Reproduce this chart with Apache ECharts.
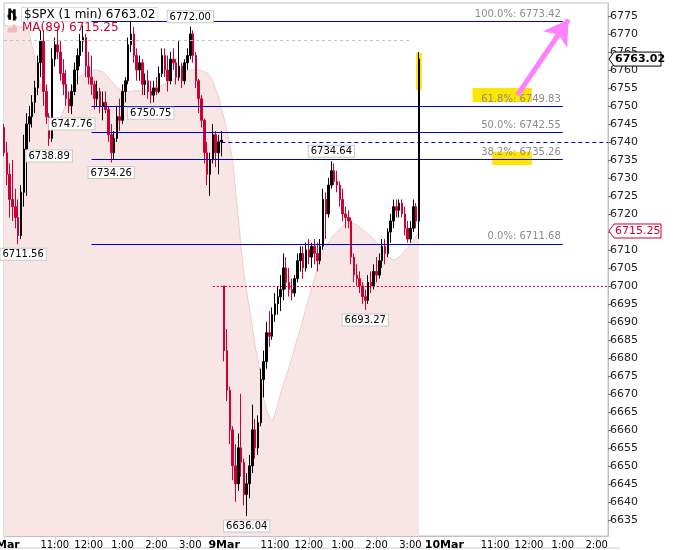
<!DOCTYPE html>
<html>
<head>
<meta charset="utf-8">
<title>$SPX (1 min)</title>
<script src="https://cdn.jsdelivr.net/npm/echarts@6/dist/echarts.min.js"></script>
<style>
    html, body { margin: 0; padding: 0; background: #fff; }
    #chart { width: 688px; height: 550px; }
</style>
</head>
<body>
<div id="chart"></div>
<script>
// trading days on the axis and how many 5-minute slots each one gets (from 9:30)
var tradingDays = ['6Mar', '9Mar', '10Mar'];
var daySlots = [78, 78, 59];

// $SPX, 5-minute bars
var spxOpen = [
    6744, 6737, 6731, 6724, 6722, 6719, 6714, 6726, 6738, 6745,
    6747, 6751, 6755, 6762, 6768, 6754, 6747, 6741, 6763, 6767,
    6765, 6759, 6756, 6752, 6750, 6754, 6760, 6764, 6768, 6769,
    6761, 6758, 6756, 6752, 6754, 6750, 6751, 6749, 6742, 6737,
    6741, 6747, 6746, 6754, 6757, 6767, 6770, 6764, 6760, 6762,
    6756, 6757, 6754, 6753, 6755, 6754, 6759, 6764, 6760, 6757,
    6763, 6762, 6758, 6761, 6757, 6762, 6764, 6770, 6764, 6757,
    6752, 6746, 6737, 6731, 6735, 6742, 6737, 6740,
    6700, 6682, 6671, 6660, 6650, 6645, 6655, 6651, 6642, 6645,
    6650, 6660, 6655, 6662, 6674, 6679, 6687, 6686, 6692, 6695,
    6697, 6699, 6705, 6701, 6699, 6698, 6702, 6707, 6709, 6705,
    6710, 6708, 6711, 6709, 6707, 6711, 6724, 6720, 6728, 6732,
    6729, 6728, 6724, 6720, 6719, 6718, 6708, 6703, 6702, 6700,
    6697, 6696, 6701, 6700, 6704, 6703, 6707, 6711, 6709, 6715,
    6718, 6722, 6721, 6723, 6720, 6716, 6713, 6716, 6722, 6718
];
var spxClose = [
    6737, 6731, 6724, 6722, 6719, 6714, 6726, 6738, 6745, 6747,
    6751, 6755, 6762, 6768, 6754, 6747, 6741, 6763, 6767, 6765,
    6759, 6756, 6752, 6750, 6754, 6760, 6764, 6768, 6769, 6761,
    6758, 6756, 6752, 6754, 6750, 6751, 6749, 6742, 6737, 6741,
    6747, 6746, 6754, 6757, 6767, 6770, 6764, 6760, 6762, 6756,
    6757, 6754, 6753, 6755, 6754, 6759, 6764, 6760, 6757, 6763,
    6762, 6758, 6761, 6757, 6762, 6764, 6770, 6764, 6757, 6752,
    6746, 6737, 6731, 6735, 6742, 6737, 6740, 6740.5,
    6682, 6671, 6660, 6650, 6645, 6655, 6651, 6642, 6645, 6650,
    6660, 6655, 6662, 6674, 6679, 6687, 6686, 6692, 6695, 6697,
    6699, 6705, 6701, 6699, 6698, 6702, 6707, 6709, 6705, 6710,
    6708, 6711, 6709, 6707, 6711, 6724, 6720, 6728, 6732, 6729,
    6728, 6724, 6720, 6719, 6718, 6708, 6703, 6702, 6700, 6697,
    6696, 6701, 6700, 6704, 6703, 6707, 6711, 6709, 6715, 6718,
    6722, 6721, 6723, 6720, 6716, 6713, 6716, 6722, 6718, 6763.02
];
var spxLow = [
    6736, 6728, 6719, 6718, 6716, 6711.56, 6713, 6722, 6725, 6740,
    6744, 6748, 6753, 6758, 6750, 6745, 6738.89, 6740, 6761, 6763,
    6757, 6753, 6750, 6748, 6747.76, 6753, 6756, 6761, 6765, 6758,
    6756, 6753, 6749, 6750, 6748, 6746, 6748, 6740, 6734.26, 6735,
    6740, 6743, 6745, 6751, 6756, 6765, 6762, 6757, 6757, 6753,
    6753, 6752, 6750.75, 6751, 6753, 6753.5, 6758, 6758, 6754, 6756,
    6760, 6756, 6757, 6755, 6756, 6760, 6763, 6762, 6755, 6748,
    6744, 6734, 6728, 6725, 6734, 6733, 6731, 6736,
    6679, 6668, 6656, 6646, 6640, 6643, 6647, 6639, 6636.04, 6641,
    6648, 6652, 6653, 6661, 6669, 6677, 6683, 6685, 6690, 6692,
    6693, 6696, 6699, 6697, 6696, 6697, 6701, 6704, 6702, 6704,
    6706, 6705, 6706, 6704, 6706, 6710, 6713, 6719, 6727, 6728,
    6726, 6722, 6718, 6716, 6716, 6706, 6701, 6700, 6698, 6695,
    6693.27, 6695, 6698, 6699, 6701, 6702, 6705, 6706, 6708, 6712,
    6716, 6719, 6719, 6719, 6714, 6712, 6712, 6715, 6716, 6713
];
var spxHigh = [
    6745, 6740, 6734, 6735, 6727, 6724, 6728, 6742, 6748, 6750,
    6753, 6757, 6764, 6771, 6771, 6756, 6748, 6766, 6769, 6771.5,
    6768, 6763, 6760, 6754, 6756, 6762, 6766, 6770, 6772.3, 6770,
    6765, 6764, 6757, 6757, 6755, 6754, 6754, 6750, 6745, 6743,
    6750, 6752, 6756, 6758, 6769, 6773.42, 6772, 6766, 6764, 6763,
    6759, 6760, 6757, 6757, 6758, 6761, 6766, 6766, 6764, 6765,
    6766, 6763, 6768, 6762, 6763, 6766, 6772, 6771, 6765, 6757.5,
    6753, 6746.5, 6740, 6737, 6745, 6743, 6742, 6743,
    6700, 6688, 6672, 6661, 6656, 6659, 6670, 6652, 6648, 6653,
    6667, 6663, 6664, 6677, 6682, 6690, 6693, 6694, 6698, 6700,
    6703, 6709, 6708, 6705, 6702, 6703, 6709, 6711, 6711, 6712,
    6713, 6712, 6713, 6712, 6713, 6727, 6726, 6730, 6734.64, 6734,
    6732, 6729, 6727, 6722, 6721, 6719, 6709, 6706, 6704, 6701,
    6699, 6703, 6704, 6706, 6708, 6709, 6713, 6713, 6716, 6720,
    6724, 6724, 6724, 6724, 6722, 6718, 6718, 6724, 6723, 6765
];

// MA(89), shaded
var ma89 = [
    6772.3, 6772.3, 6772.2, 6772.2, 6772.1, 6772.0, 6772.0, 6771.9, 6771.6, 6770.2,
    6766.5, 6763.0, 6758.5, 6755.5, 6752.0, 6749.3, 6746.3, 6743.4, 6743.7, 6744.8,
    6746.5, 6748.5, 6750.8, 6753.0, 6754.8, 6756.6, 6757.5, 6758.2, 6758.7, 6759.0,
    6759.5, 6759.8, 6760.0, 6759.9, 6759.7, 6759.5, 6758.8, 6757.9, 6757.0, 6756.0,
    6755.1, 6754.6, 6754.1, 6753.9, 6754.0, 6754.1, 6754.2, 6754.2, 6754.3, 6754.3,
    6754.4, 6754.4, 6754.5, 6754.7, 6754.9, 6755.3, 6755.7, 6756.1, 6756.5, 6756.9,
    6757.4, 6757.9, 6758.4, 6758.9, 6759.3, 6759.7, 6760.0, 6760.0, 6760.0, 6760.0,
    6759.8, 6759.5, 6759.1, 6758.2, 6757.0, 6754.5, 6752.5, 6749.5,
    6746.5, 6743.0, 6739.0, 6735.0, 6727.0, 6719.0, 6710.5, 6703.5, 6698.5, 6693.5,
    6688.5, 6683.0, 6679.5, 6674.0, 6668.5, 6665.5, 6663.5, 6662.2, 6664.5, 6667.0,
    6670.0, 6672.5, 6675.0, 6677.5, 6680.0, 6683.0, 6685.5, 6688.0, 6691.0, 6694.0,
    6696.5, 6699.5, 6702.0, 6705.0, 6707.8, 6709.5, 6711.0, 6712.0, 6713.2, 6714.3,
    6715.0, 6715.8, 6716.6, 6717.2, 6717.5, 6717.5, 6717.3, 6717.0, 6716.3, 6715.6,
    6715.0, 6714.3, 6713.7, 6713.0, 6712.0, 6711.0, 6710.0, 6709.2, 6708.3, 6707.5,
    6707.2, 6707.5, 6708.0, 6708.7, 6709.8, 6710.6, 6711.6, 6712.6, 6713.8, 6715.25
];

// fibonacci retracement levels
var fibPct = ['100.0%', '61.8%', '50.0%', '38.2%', '0.0%'];
var fibPrice = [6773.42, 6749.83, 6742.55, 6735.26, 6711.68];

// boxed highs / lows: slot index and price
var tagSlot = [66, 24, 52, 16, 38, 116, 5, 128, 86];
var tagPrice = [6772.00, 6747.76, 6750.75, 6738.89, 6734.26, 6734.64, 6711.56, 6693.27, 6636.04];
var tagAbove = [true, false, false, false, false, true, false, false, false];

var yTicks = [];
for (var t = 6635; t <= 6775; t += 5) yTicks.push(t);

var lastPrice = 6763.02;
var lastMa = 6715.25;

// build the category axis: one entry per 5-minute slot
var categories = [];
var labelIdx = {};
for (var d = 0; d < tradingDays.length; d++) {
    for (var k = 0; k < daySlots[d]; k++) {
        var mins = 570 + k * 5;
        var h = Math.floor(mins / 60), m = mins % 60;
        var txt = '';
        if (k === 0) {
            txt = '{d|' + tradingDays[d] + '}';
        } else if (m === 0 && h >= 11) {
            txt = (h > 12 ? h - 12 : h) + ':00';
        }
        if (txt) labelIdx[categories.length] = txt;
        categories.push(tradingDays[d] + ' ' + h + ':' + (m < 10 ? '0' + m : m));
    }
}
function showSlot(i) { return !!labelIdx[i]; }

var ohlc = [];
for (var i = 0; i < spxOpen.length; i++) {
    ohlc.push([spxOpen[i], spxClose[i], spxLow[i], spxHigh[i]]);
}

var fibStart = 30.8, fibEnd = 197.7;
var blue = '#0000cc';
var crimson = '#cc0033';

function segment(x0, x1, y, style, label) {
    var a = { coord: [x0, y], lineStyle: style };
    if (label) a.label = label;
    return [a, { coord: [x1, y], lineStyle: style }];
}

var markLines = [];
for (var f = 0; f < fibPrice.length; f++) {
    markLines.push(segment(fibStart, fibEnd, fibPrice[f], { color: blue, width: 1, type: 'solid' }, {
        show: true,
        position: 'insideEndTop',
        distance: 2,
        color: '#8c8c8c',
        fontSize: 10,
        fontFamily: 'DejaVu Sans',
        formatter: fibPct[f] + ': ' + fibPrice[f].toFixed(2)
    }));
}
// hand drawn lines
markLines.push(segment(0, 143.9, 6768.3, { color: '#c4c4c4', width: 1, type: [3, 3] }));
markLines.push(segment(76.9, 214, 6740, { color: blue, width: 1, type: [4, 3] }));
markLines.push(segment(74, 214, 6700, { color: crimson, width: 1, type: [2, 2] }));
// pink arrow
var arrowStyle = { color: '#ff80ff', width: 5, type: 'solid' };
markLines.push([
    { coord: [182.1, 6753.1], symbol: 'none', lineStyle: arrowStyle },
    { coord: [200.3, 6774.0], symbol: 'arrow', symbolSize: [22, 24], lineStyle: arrowStyle, itemStyle: { color: '#ff80ff' } }
]);

var markPoints = [];
for (var p = 0; p < tagSlot.length; p++) {
    markPoints.push({
        coord: [tagSlot[p], tagPrice[p]],
        value: tagPrice[p].toFixed(2),
        label: { position: tagAbove[p] ? 'top' : 'bottom', offset: [tagSlot[p] < 10 ? 5 : 0, 0] }
    });
}

var chart = echarts.init(document.getElementById('chart'));
chart.setOption({
    animation: false,
    backgroundColor: '#fff',
    textStyle: { fontFamily: 'DejaVu Sans' },
    legend: {
        left: 2,
        top: 2,
        orient: 'vertical',
        itemGap: 0,
        itemWidth: 10,
        itemHeight: 10,
        selectedMode: false,
        formatter: function (name) {
            return name + ' ' + (name === 'MA(89)' ? lastMa : lastPrice).toFixed(2);
        },
        data: [{
            name: '$SPX (1 min)',
            icon: 'path://M1,0h1v12h-1zM0,8h1v1h-1zM2,2h1v1h-1zM7,1h1v12h-1zM8,10h1v1h-1zM6,3h1v1h-1z',
            itemStyle: { color: '#000' },
            textStyle: {
                color: '#000', fontSize: 12,
                backgroundColor: '#fff', borderColor: '#ddd', borderWidth: 1, padding: [1, 2, 0, 2]
            }
        }, {
            name: 'MA(89)',
            icon: 'path://M0,10L2,4L4,6L7,1L10,5L10,10Z',
            itemStyle: { color: '#f2b8c0' },
            textStyle: { color: crimson, fontSize: 12 }
        }]
    },
    grid: {
        left: 4, right: 80, top: 3, bottom: 14,
        containLabel: false, outerBoundsMode: 'none',
        show: true, borderColor: '#c0c0c0', borderWidth: 1
    },
    xAxis: {
        type: 'category',
        data: categories,
        boundaryGap: false,
        axisLine: { lineStyle: { color: '#c0c0c0' } },
        axisTick: { interval: showSlot, length: 7, lineStyle: { color: '#d4d4d4' } },
        axisLabel: {
            interval: showSlot,
            margin: 4,
            color: '#000',
            fontSize: 10,
            hideOverlap: false,
            formatter: function (v, idx) { return labelIdx[idx] || ''; },
            rich: { d: { fontWeight: 'bold', fontSize: 11, color: '#000' } }
        },
        splitLine: { show: false }
    },
    yAxis: {
        type: 'value',
        position: 'right',
        min: 6630.5,
        max: 6778.6,
        axisLine: { show: true, lineStyle: { color: '#c0c0c0' } },
        axisTick: { show: true, length: 3, customValues: yTicks, lineStyle: { color: '#777' } },
        axisLabel: {
            customValues: yTicks, margin: 2, color: '#222', fontSize: 11,
            formatter: function (v) { return String(v); }
        },
        splitLine: { show: false }
    },
    series: [{
        name: 'MA(89)',
        type: 'line',
        data: ma89,
        z: 1,
        showSymbol: false,
        symbol: 'none',
        silent: true,
        lineStyle: { color: '#f0cccc', width: 1 },
        itemStyle: { color: '#f2b8c0' },
        areaStyle: { color: '#f8e5e5', origin: 'start', opacity: 1 }
    }, {
        name: '$SPX (1 min)',
        type: 'candlestick',
        data: ohlc,
        z: 3,
        barWidth: 2,
        itemStyle: {
            color: '#000', color0: crimson,
            borderColor: '#000', borderColor0: crimson, borderWidth: 1
        },
        markArea: {
            silent: true,
            itemStyle: { color: '#ffe400' },
            data: [
                [{ coord: [166.2, 6755.0] }, { coord: [186.7, 6751.1] }],
                [{ coord: [172.5, 6737.3] }, { coord: [186.6, 6733.6] }],
                [{ coord: [146.3, 6764.7] }, { coord: [147.7, 6754.4] }]
            ]
        },
        markLine: { silent: true, symbol: 'none', data: markLines },
        markPoint: {
            silent: true,
            symbol: 'circle',
            symbolSize: 1,
            itemStyle: { color: 'rgba(0,0,0,0)' },
            label: {
                show: true,
                distance: 4,
                formatter: '{c}',
                color: '#000',
                fontSize: 10,
                fontFamily: 'DejaVu Sans',
                backgroundColor: '#fff',
                borderColor: '#c8c8c8',
                borderWidth: 1,
                padding: [1, 2, 0, 2]
            },
            data: markPoints
        }
    }]
});

// value tags on the right axis, placed through the axis scale
function axisTag(value, color, bold) {
    var py = chart.convertToPixel({ yAxisIndex: 0 }, value);
    var gx = 608;
    return {
        type: 'group',
        z: 100,
        zlevel: 1,
        children: [{
            type: 'polygon',
            z: 100,
            zlevel: 1,
            shape: { points: [[gx + 1, py], [gx + 6, py - 7], [gx + 53, py - 7], [gx + 53, py + 7], [gx + 6, py + 7]] },
            style: { fill: '#fff', stroke: color, lineWidth: 1 }
        }, {
            type: 'text',
            z: 101,
            zlevel: 1,
            x: gx + 7,
            y: py,
            style: {
                text: value.toFixed(2),
                fill: color,
                font: (bold ? 'bold ' : '') + '11px "DejaVu Sans"',
                verticalAlign: 'middle'
            }
        }]
    };
}
chart.setOption({
    graphic: [
        axisTag(lastPrice, '#000', true),
        axisTag(lastMa, crimson, false),
        {
            type: 'line',
            shape: { x1: 0, y1: 548, x2: 620, y2: 548 },
            style: { stroke: '#cccccc', lineWidth: 1 }
        }
    ]
});
</script>
</body>
</html>
